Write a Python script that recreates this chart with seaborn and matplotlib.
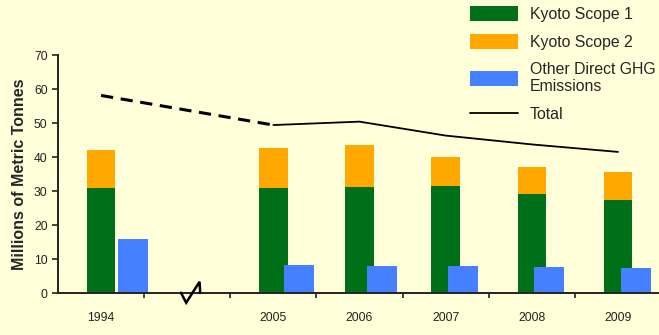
import numpy as np
import pandas as pd
import seaborn as sns
import matplotlib
matplotlib.use("Agg")
import matplotlib.pyplot as plt
from matplotlib.patches import Patch
from matplotlib.lines import Line2D

# ---- data ----
years = ["1994", "2005", "2006", "2007", "2008", "2009"]
order = ["1994", " ", "2005", "2006", "2007", "2008", "2009"]
scope1 = [31.0, 30.8, 31.2, 31.5, 29.0, 27.4]
scope2 = [11.0, 11.8, 12.3, 8.4, 8.2, 8.2]
other = [15.8, 8.1, 7.85, 7.8, 7.7, 7.4]
total = [58.1, 49.4, 50.4, 46.3, 43.7, 41.5]
y_ticks = [0, 10, 20, 30, 40, 50, 60, 70]

# ---- style ----
BG = "#FFFFDA"
GREEN = "#007018"
ORANGE = "#FFA800"
BLUE = "#4480FF"
blue_offsets = [0.37, 0.30, 0.26, 0.20, 0.20, 0.21]

sns.set_style("ticks")
plt.rcParams["font.family"] = ["Liberation Sans", "DejaVu Sans"]

df = pd.DataFrame({"year": years, "s1": scope1, "s2": scope2,
                   "other": other, "total": total})
df["s12"] = df["s1"] + df["s2"]
df["pos"] = [order.index(y) for y in years]

fig = plt.figure(figsize=(6.59, 3.35), dpi=100, facecolor=BG)
ax = fig.add_axes([58 / 659, 1 - 293 / 335, 603 / 659, 238 / 335])
ax.set_facecolor(BG)

# stacked bars: orange (scope1+2) then green drawn over it
sns.barplot(data=df, x="year", y="s12", order=order, color=ORANGE,
            width=0.33, saturation=1, ax=ax, linewidth=0)
sns.barplot(data=df, x="year", y="s1", order=order, color=GREEN,
            width=0.33, saturation=1, ax=ax, linewidth=0)
n_before = len(ax.patches)
sns.barplot(data=df, x="year", y="other", order=order, color=BLUE,
            width=0.35, saturation=1, ax=ax, linewidth=0)
blue_patches = [p for p in ax.patches[n_before:] if p.get_height() > 0]
for p, off in zip(blue_patches, blue_offsets):
    p.set_x(p.get_x() + off)

# total line: dashed across the break, solid afterwards
ax.plot(df["pos"][:2], df["total"][:2], color="black", lw=2.2,
        dashes=(4, 2.5), zorder=5)
sns.lineplot(x=df["pos"][1:].values, y=df["total"][1:].values, color="black",
             lw=1.3, ax=ax, zorder=5)

# axes
ax.set_xlim(-0.5, 6.5)
ax.set_ylim(0, 70)
ax.set_yticks(y_ticks)
ax.set_xticks(range(len(order)))
ax.set_xticklabels([o.strip() for o in order])
ax.set_xticks(np.arange(0.5, 6.0, 1.0), minor=True)
ax.tick_params(axis="x", which="major", length=0, pad=14, labelsize=8.8,
               colors="#222222")
ax.tick_params(axis="x", which="minor", length=3.5, width=1.2,
               direction="out", color="#222222")
ax.tick_params(axis="y", length=4, width=1.2, labelsize=8.8,
               colors="#222222")
ax.set_xlabel("")
ax.set_ylabel("Millions of Metric Tonnes", fontsize=11.5, fontweight="bold",
              labelpad=5)
for s in ["top", "right"]:
    ax.spines[s].set_visible(False)
for s in ["left", "bottom"]:
    ax.spines[s].set_linewidth(1.4)
    ax.spines[s].set_color("#222222")

# axis break mark
ax.plot([0.927, 0.988, 1.143, 1.151], [0.1, -2.85, 3.3, 0.0],
        color="black", lw=1.8, clip_on=False, zorder=6,
        solid_joinstyle="miter")

# legend
handles = [Patch(facecolor=GREEN, edgecolor="none"),
           Patch(facecolor=ORANGE, edgecolor="none"),
           Patch(facecolor=BLUE, edgecolor="none"),
           Line2D([0], [0], color="black", lw=1.3)]
labels = ["Kyoto Scope 1", "Kyoto Scope 2", "Other Direct GHG\nEmissions",
          "Total"]
fig.legend(handles, labels, loc="upper left",
           bbox_to_anchor=(470 / 659, 1 - 6 / 335), frameon=False,
           fontsize=11.4, handlelength=3.0, handleheight=1.08,
           handletextpad=0.76, labelspacing=0.76, borderpad=0,
           borderaxespad=0)

fig.savefig("out.png", dpi=100, facecolor=BG)
